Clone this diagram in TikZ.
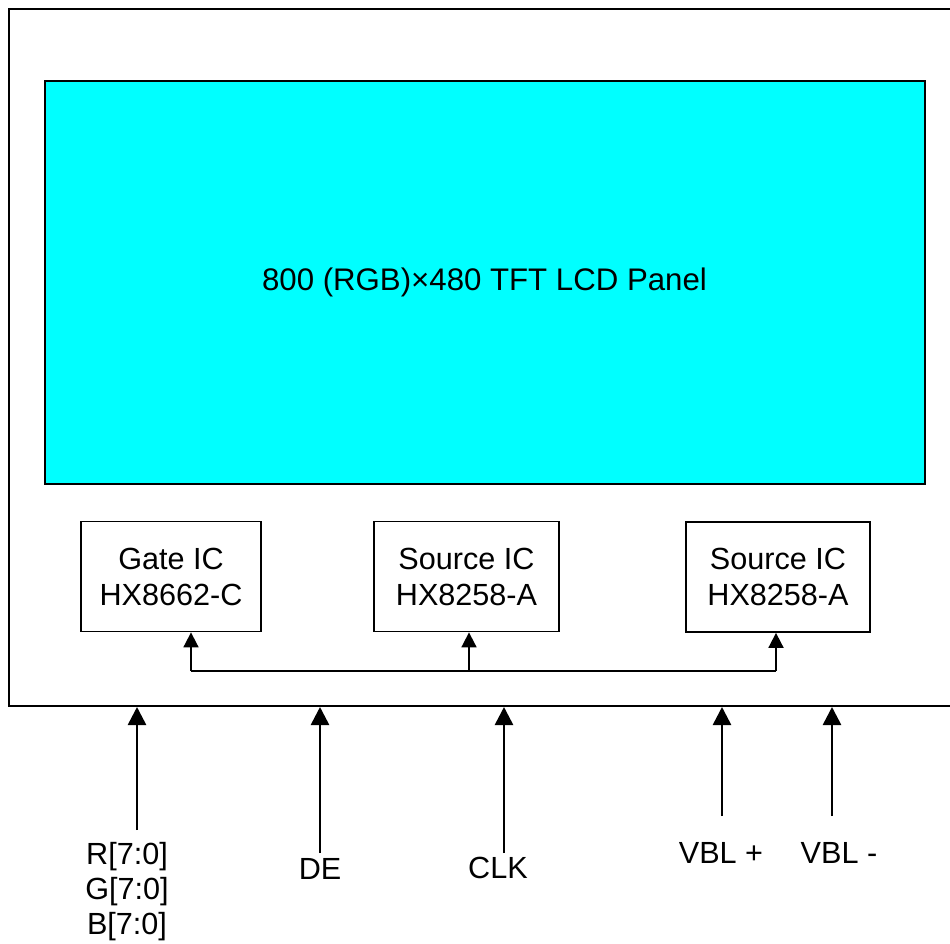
\documentclass[tikz,border=0pt]{standalone}
\usepackage{fontspec}
\setmainfont{Liberation Sans}
\usetikzlibrary{arrows.meta}
\definecolor{panelcyan}{RGB}{0,255,255}
\begin{document}
\begin{tikzpicture}[x=1pt,y=-1pt,
  every node/.style={font=\fontsize{30.6}{36}\selectfont},
  box/.style={draw,line width=1.8pt,inner sep=0pt,align=center},
  ic/.style={box,minimum height=110pt},
  sig/.style={line width=2.6pt,-{Triangle[length=18pt,width=18pt]}},
  bus/.style={line width=1.8pt},
  busarrow/.style={bus,-{Triangle[length=15pt,width=15pt]}},
  lbl/.style={anchor=base,inner sep=0pt}]
\useasboundingbox (0,0) rectangle (950,944);
% outer frame
\node[draw,line width=2pt,minimum width=962pt,minimum height=697pt,inner sep=0pt,anchor=north west] (frame) at (8,8) {};
% panel
\node[box,line width=2pt,fill=panelcyan,minimum width=880pt,minimum height=403pt,font=\fontsize{31.2}{36}\selectfont] (panel) at (484.5,282.5) {800 (RGB)×480 TFT LCD Panel};
% ICs
\node[ic,minimum width=180pt] (gate) at (171,576.5) {Gate IC\\HX8662-C};
\node[ic,minimum width=185pt] (srca) at (466.5,576.5) {Source IC\\HX8258-A};
\node[ic,minimum width=184pt] (srcb) at (778,577) {Source IC\\HX8258-A};
% internal bus
\coordinate (busL) at (191,671);
\coordinate (busM) at (469,671);
\coordinate (busR) at (776,671);
\draw[bus] (busL) -- (busR);
\draw[busarrow] (busL) -- (busL |- gate.south);
\draw[busarrow] (busM) -- (busM |- srca.south);
\draw[busarrow] (busR) -- (busR |- srcb.south);
% input signals
\coordinate (rgbS) at (137,830);
\coordinate (deS) at (320,853);
\coordinate (clkS) at (504,853);
\coordinate (vpS) at (722,816);
\coordinate (vmS) at (832,816);
\draw[sig] (rgbS) -- (rgbS |- frame.south);
\draw[sig] (deS) -- (deS |- frame.south);
\draw[sig] (clkS) -- (clkS |- frame.south);
\draw[sig] (vpS) -- (vpS |- frame.south);
\draw[sig] (vmS) -- (vmS |- frame.south);
% labels
\node[lbl] (rlab) at (127,864) {R[7:0]};
\node[lbl] (glab) at (127,899) {G[7:0]};
\node[lbl] (blab) at (127,934) {B[7:0]};
\node[lbl] (delab) at (320,879) {DE};
\node[lbl] (clklab) at (498,878) {CLK};
\node[lbl] (vplab) at (721,863) {VBL +};
\node[lbl] (vmlab) at (839,863) {VBL -};
\end{tikzpicture}
\end{document}
